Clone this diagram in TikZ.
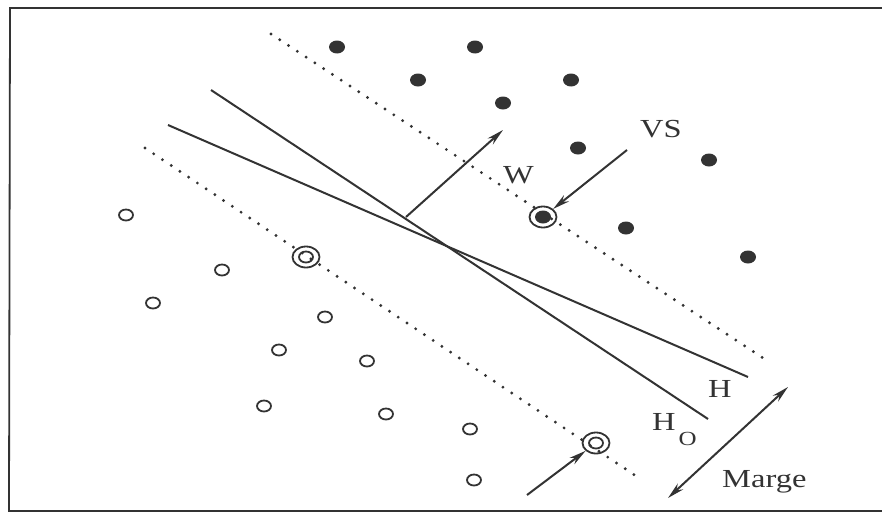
\documentclass[tikz,border=0pt]{standalone}
\usepackage{fontspec}
\usepackage{graphicx}
\setmainfont{Liberation Serif}
\usetikzlibrary{arrows.meta,shapes.geometric}
\definecolor{ink}{HTML}{333333}
\newcommand{\wide}[1]{\scalebox{1.25}[1]{#1}}

\begin{document}
\begin{tikzpicture}[
    x=1pt, y=-1pt,
    font=\fontsize{26}{30}\selectfont,
    lbl/.style={anchor=base west, inner sep=0pt, text=ink},
    plusdot/.style={ellipse, fill=ink, inner sep=0pt, minimum width=16pt, minimum height=13pt},
    minusdot/.style={ellipse, draw=ink, line width=1.8pt, inner sep=0pt, minimum width=14pt, minimum height=11pt},
    svminus/.style={ellipse, draw=ink, line width=1.8pt, inner sep=0pt, minimum width=27pt, minimum height=21pt,
      path picture={\draw[ink, line width=1.8pt] (path picture bounding box.center) ellipse [x radius=7pt, y radius=5.5pt];}},
    svplus/.style={ellipse, draw=ink, line width=1.8pt, inner sep=0pt, minimum width=27pt, minimum height=21pt,
      path picture={\fill[ink] (path picture bounding box.center) ellipse [x radius=8pt, y radius=6.5pt];}},
    hyper/.style={draw=ink, line width=2pt},
    marginline/.style={draw=ink, line width=3.2pt, line cap=round, dash pattern=on 0pt off 10.5pt},
    arrow/.style={draw=ink, line width=2pt, -{Stealth[length=17pt, width=8pt]}}
  ]
    \useasboundingbox (0,0) rectangle (882,514);
    \draw[ink, line width=1.8pt] (882,8) -- (10,8) -- (9,511) -- (882,511);

    % margins
    \coordinate (up1) at (271,34);
    \coordinate (up2) at (763,358);
    \coordinate (lo1) at (145,148);
    \coordinate (lo2) at (636,476);
    \draw[marginline] (up1) -- (up2);
    \draw[marginline] (lo1) -- (lo2);

    % hyperplanes
    \coordinate (ho1) at (211,90);
    \coordinate (ho2) at (708,419);
    \coordinate (h1) at (168,125);
    \coordinate (h2) at (748,377);
    \draw[hyper] (ho1) -- (ho2);
    \draw[hyper] (h1) -- (h2);

    % class +1
    \node[plusdot] (p1) at (337,47) {};
    \node[plusdot] (p2) at (475,47) {};
    \node[plusdot] (p3) at (418,80) {};
    \node[plusdot] (p4) at (571,80) {};
    \node[plusdot] (p5) at (503,103) {};
    \node[plusdot] (p6) at (578,148) {};
    \node[plusdot] (p7) at (709,160) {};
    \node[plusdot] (p8) at (626,228) {};
    \node[plusdot] (p9) at (748,257) {};
    \node[svplus] (sv1) at (543,217) {};

    % class -1
    \node[minusdot] (n1) at (126,215) {};
    \node[minusdot] (n2) at (222,270) {};
    \node[minusdot] (n3) at (153,303) {};
    \node[minusdot] (n4) at (325,317) {};
    \node[minusdot] (n5) at (279,350) {};
    \node[minusdot] (n6) at (367,361) {};
    \node[minusdot] (n7) at (264,406) {};
    \node[minusdot] (n8) at (386,414) {};
    \node[minusdot] (n9) at (470,429) {};
    \node[minusdot] (n10) at (474,480) {};
    \node[svminus] (sv2) at (306,257) {};
    \node[svminus] (sv3) at (596,443) {};

    % labels
    \node[lbl] (w) at (503,183) {\wide{W}};
    \node[lbl] (vs) at (640,137) {\wide{VS}};
    \node[lbl] (h) at (708,397) {\wide{H}};
    \node[lbl] (ho) at (652,430) {\wide{H}\kern3pt\raisebox{-15pt}{\fontsize{20}{20}\selectfont\wide{O}}};
    \node[lbl] (marge) at (722,487) {\wide{Marge}};

    % arrows
    \coordinate (wfoot) at (406,217);
    \coordinate (wtip) at (503,130);
    \coordinate (vstail) at (627,150);
    \coordinate (svtail) at (527,495);
    \coordinate (mg1) at (668,498);
    \coordinate (mg2) at (788,387);
    \draw[arrow] (wfoot) -- (wtip);
    \draw[arrow] (vstail) -- (sv1);
    \draw[arrow] (svtail) -- (sv3);
    \draw[arrow, {Stealth[length=17pt, width=8pt]}-{Stealth[length=17pt, width=8pt]}] (mg1) -- (mg2);
  \end{tikzpicture}
\end{document}
